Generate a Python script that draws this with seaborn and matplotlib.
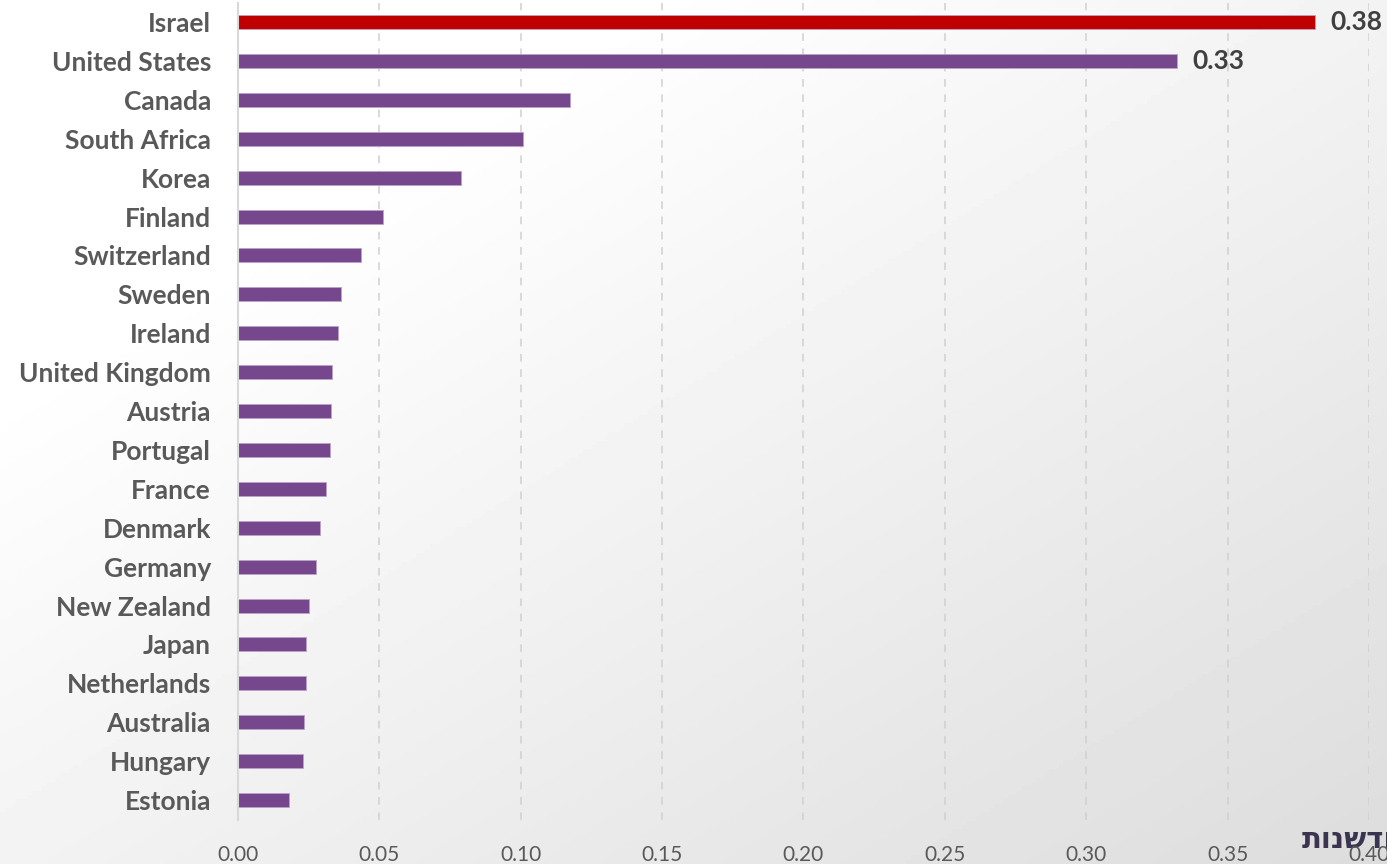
import numpy as np
import matplotlib
matplotlib.use("Agg")
import matplotlib.pyplot as plt
import seaborn as sns

countries = ["Israel", "United States", "Canada", "South Africa", "Korea", "Finland",
             "Switzerland", "Sweden", "Ireland", "United Kingdom", "Austria", "Portugal",
             "France", "Denmark", "Germany", "New Zealand", "Japan", "Netherlands",
             "Australia", "Hungary", "Estonia"]
values = [0.381, 0.332, 0.1174, 0.1007, 0.0789, 0.0513, 0.0434, 0.0366, 0.0353, 0.0334,
          0.0328, 0.0327, 0.0312, 0.0291, 0.0276, 0.0251, 0.0242, 0.0239, 0.0233, 0.0229,
          0.0181]
labelled = ["Israel", "United States"]
x_ticks = [0.00, 0.05, 0.10, 0.15, 0.20, 0.25, 0.30, 0.35, 0.40]

highlight = "#C00000"
base = "#76478D"
palette = {c: (highlight if c == "Israel" else base) for c in countries}

sns.set_theme(style="white")
plt.rcParams["font.family"] = ["Lato", "DejaVu Sans"]

fig = plt.figure(figsize=(13.87, 8.64), dpi=100)

# soft light-grey backdrop, paler towards the upper left
bg = fig.add_axes([0, 0, 1, 1], zorder=0)
gx, gy = np.meshgrid(np.linspace(0, 1, 300), np.linspace(0, 1, 200))
shade = np.clip(0.55 * gx + 0.55 * gy - 0.25, 0, 1)
bg.imshow(1 - 0.16 * shade, cmap="gray", vmin=0, vmax=1, aspect="auto",
          extent=[0, 1, 0, 1], origin="upper")
bg.axis("off")

ax = fig.add_axes([0.1716, 0.0515, 0.8154, 0.9455], zorder=1)
ax.patch.set_alpha(0)

sns.barplot(x=values, y=countries, hue=countries, palette=palette, legend=False,
            orient="h", width=0.36, ax=ax, saturation=1,
            edgecolor="#B9A3C6", linewidth=0.6)

ax.set_xlim(0, 0.40)
ax.set_ylim(len(countries) - 0.5, -0.5)
ax.set_xticks(x_ticks)
ax.set_xticklabels([f"{t:.2f}" for t in x_ticks], fontsize=15, color="#595959")
ax.tick_params(axis="x", length=0, pad=18)
ax.tick_params(axis="y", length=0, pad=19.5)
for lab in ax.get_yticklabels():
    lab.set_fontsize(19)
    lab.set_fontweight("bold")
    lab.set_color("#595959")

ax.xaxis.grid(True, linestyle=(0, (5, 5)), color="#D0D0D0", linewidth=1.1)
ax.yaxis.grid(False)
ax.set_axisbelow(True)
for side in ["top", "right", "bottom"]:
    ax.spines[side].set_visible(False)
ax.spines["left"].set_color("#D9D9D9")
ax.spines["left"].set_linewidth(1.5)
ax.set_xlabel("")
ax.set_ylabel("")

for i, (c, v) in enumerate(zip(countries, values)):
    if c in labelled:
        ax.annotate(f"{v:.2f}", xy=(v, i), xytext=(11, 0), textcoords="offset points",
                    ha="left", va="center", fontsize=19, fontweight="bold",
                    color="#404040")

# logo text in the lower right corner (glyphs given in visual order)
fig.text(1302 / 1387, 1 - 840 / 864, "תונשדח", fontsize=21, fontweight="semibold",
         color="#3A3450", ha="left", va="center", family=["DejaVu Sans"], zorder=0.5)

fig.savefig("out.png", dpi=100)
